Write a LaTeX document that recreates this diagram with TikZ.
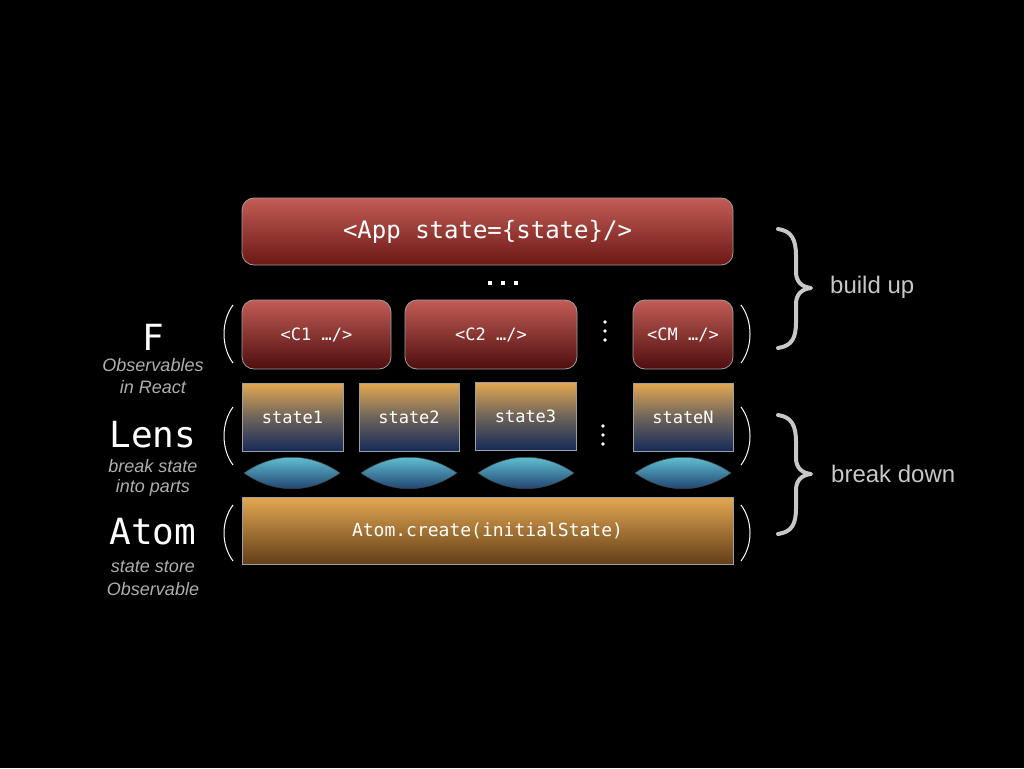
\documentclass[tikz,border=0pt]{standalone}
\usepackage{fontspec}
\setmainfont{Liberation Sans}
\newfontfamily\mono{DejaVu Sans Mono}
\definecolor{redtop}{RGB}{194,92,86}
\definecolor{redbot}{RGB}{108,24,20}
\definecolor{credbot}{RGB}{78,14,14}
\definecolor{ortop}{RGB}{228,168,82}
\definecolor{ormid}{RGB}{110,100,90}
\definecolor{navybot}{RGB}{22,42,90}
\definecolor{atombot}{RGB}{98,62,24}
\definecolor{lenstop}{RGB}{105,210,225}
\definecolor{lensbot}{RGB}{24,48,98}
\definecolor{bracegray}{RGB}{200,200,200}
\definecolor{labgray}{RGB}{175,175,175}
\begin{document}
\begin{tikzpicture}[x=1pt,y=-1pt,
  box/.style={draw=gray!75, line width=0.8pt, inner sep=0pt, text=white, align=center},
  redbox/.style={box, rounded corners=12pt, top color=redtop, bottom color=redbot},
  credbox/.style={box, rounded corners=12pt, top color=redtop, bottom color=credbot, font=\mono\fontsize{17}{20}\selectfont},
  statebox/.style={box, minimum height=68pt, top color=ortop, bottom color=navybot, middle color=ormid, font=\mono\fontsize{17}{20}\selectfont},
  atombox/.style={box, top color=ortop, bottom color=atombot, font=\mono\fontsize{18}{21}\selectfont},
  lens/.style={draw=gray!50!black, line width=0.5pt, top color=lenstop, bottom color=lensbot},
  paren/.style={draw=white, line width=1pt},
  brace/.style={draw=bracegray, line width=4pt, line cap=round, line join=round},
  biglab/.style={text=white, font=\mono\fontsize{36}{40}\selectfont, inner sep=0pt},
  smalllab/.style={text=labgray, font=\itshape\fontsize{18}{21}\selectfont, inner sep=0pt},
  sidelab/.style={text=bracegray, font=\fontsize{24}{28}\selectfont, inner sep=0pt, anchor=west},
  dot/.style={fill=white}
]
\useasboundingbox (0,0) rectangle (1024,768);
\fill[black] (0,0) rectangle (1024,768);

% top app box
\node[redbox, minimum width=491pt, minimum height=67pt, font=\mono\fontsize{24}{28}\selectfont] (app) at (487.5,231.5) {<App state=\{state\}/>};
\foreach \x in {490,503,516} \fill[dot] (\x-2,281) rectangle (\x+2,285);

% component row
\node[credbox, minimum width=149pt, minimum height=69pt] (c1) at (316.5,334.5) {<C1 …/>};
\node[credbox, minimum width=172pt, minimum height=69pt] (c2) at (491,334.5) {<C2 …/>};
\node[credbox, minimum width=100pt, minimum height=69pt] (cm) at (683,334.5) {<CM …/>};
\foreach \y in {322,331,340} \fill[dot] (605,\y) circle (1.8);

% state row
\node[statebox, minimum width=101pt] (s1) at (292.5,417) {state1};
\node[statebox, minimum width=100pt] (s2) at (409,417) {state2};
\node[statebox, minimum width=101pt] (s3) at (525.5,416) {state3};
\node[statebox, minimum width=100pt] (sn) at (683,417) {stateN};
\foreach \y in {426,435,444} \fill[dot] (603,\y) circle (1.8);

% lenses
\foreach \cx in {292,409,526,683}{
  \path[lens] (\cx-48,473) .. controls (\cx-18,452) and (\cx+18,452) .. (\cx+48,473)
     .. controls (\cx+18,494) and (\cx-18,494) .. cycle;
}

% atom
\node[atombox, minimum width=491pt, minimum height=67pt] (atom) at (487.5,530.5) {Atom.create(initialState)};

% parentheses
\foreach \ya/\yb in {305/363,407/465,505/561}{
  \draw[paren] (233,\ya) .. controls (221,\ya+16) and (221,\yb-16) .. (233,\yb);
  \draw[paren] (741,\ya) .. controls (753,\ya+16) and (753,\yb-16) .. (741,\yb);
}

% braces
\draw[brace] (778,229) .. controls (792,231) and (796,240) .. (796,256) -- (796,272)
   .. controls (796,282) and (802,287) .. (811,288)
   .. controls (802,289) and (796,294) .. (796,304) -- (796,322)
   .. controls (796,338) and (792,346) .. (778,348);
\draw[brace] (778,415) .. controls (792,417) and (796,426) .. (796,442) -- (796,458)
   .. controls (796,468) and (802,473) .. (811,474)
   .. controls (802,475) and (796,480) .. (796,490) -- (796,508)
   .. controls (796,524) and (792,532) .. (778,534);
\node[sidelab] (bu) at (830,287) {build up};
\node[sidelab] (bd) at (831,474) {break down};

% left labels
\node[biglab] (F) at (153,337) {F};
\node[smalllab] (fo) at (153,365) {Observables};
\node[smalllab] (fr) at (153,387) {in React};
\node[biglab] (L) at (153,435) {Lens};
\node[smalllab] (lb) at (153,466) {break state};
\node[smalllab] (li) at (153,488) {into parts};
\node[biglab] (A) at (153,532) {Atom};
\node[smalllab] (as) at (153,567) {state store};
\node[smalllab] (ao) at (153,589) {Observable};
\end{tikzpicture}
\end{document}
